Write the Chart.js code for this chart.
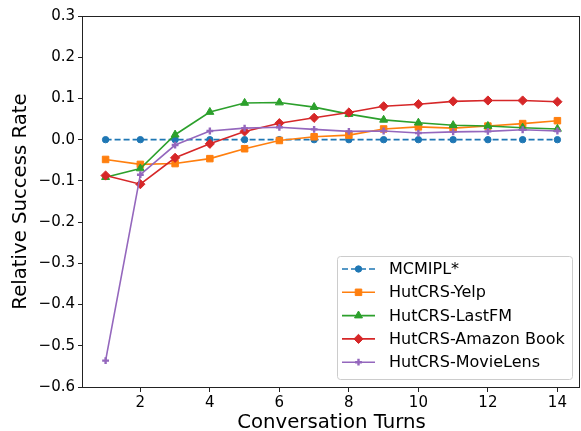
<!DOCTYPE html>
<html>
<head>
<meta charset="utf-8">
<script src="https://cdn.jsdelivr.net/npm/chart.js@4/dist/chart.umd.min.js"></script>
<style>
  html, body { margin: 0; padding: 0; background: #fff; }
  #wrap { width: 581px; height: 431px; }
</style>
</head>
<body>
<div id="wrap"><canvas id="c" width="581" height="431"></canvas></div>
<script>
// 数据
const turns = [1, 2, 3, 4, 5, 6, 7, 8, 9, 10, 11, 12, 13, 14];
const xTickValues = [2, 4, 6, 8, 10, 12, 14];
const seriesNames = ['MCMIPL*', 'HutCRS-Yelp', 'HutCRS-LastFM', 'HutCRS-Amazon Book', 'HutCRS-MovieLens'];
const mcmipl = [0, 0, 0, 0, 0, 0, 0, 0, 0, 0, 0, 0, 0, 0];
const yelp = [-0.048, -0.060, -0.058, -0.046, -0.022, -0.002, 0.007, 0.011, 0.026, 0.031, 0.028, 0.033, 0.039, 0.046];
const lastfm = [-0.091, -0.070, 0.012, 0.067, 0.089, 0.090, 0.079, 0.062, 0.048, 0.041, 0.035, 0.033, 0.029, 0.026];
const amazonBook = [-0.087, -0.108, -0.044, -0.010, 0.020, 0.040, 0.053, 0.066, 0.081, 0.086, 0.093, 0.095, 0.095, 0.092];
const movieLens = [-0.536, -0.085, -0.013, 0.021, 0.028, 0.030, 0.025, 0.020, 0.021, 0.016, 0.019, 0.020, 0.024, 0.021];

const FONT = "'DejaVu Sans', sans-serif";

const styles = [
  { color: '#1f77b4', pointStyle: 'circle', radius: 3.2, dash: [6, 3], pointBorder: 1 },
  { color: '#ff7f0e', pointStyle: 'rect', radius: 4.6, dash: [], pointBorder: 1 },
  { color: '#2ca02c', pointStyle: 'triangle', radius: 4.6, dash: [], pointBorder: 1 },
  { color: '#d62728', pointStyle: 'rectRot', radius: 4.6, dash: [], pointBorder: 1 },
  { color: '#9467bd', pointStyle: 'cross', radius: 3.4, dash: [], pointBorder: 2.4 }
];
const allValues = [mcmipl, yelp, lastfm, amazonBook, movieLens];

const datasets = allValues.map((vals, i) => ({
  label: seriesNames[i],
  data: turns.map((t, k) => ({ x: t, y: vals[k] })),
  borderColor: styles[i].color,
  backgroundColor: styles[i].color,
  borderWidth: 1.6,
  borderDash: styles[i].dash,
  pointStyle: styles[i].pointStyle,
  pointRadius: styles[i].radius,
  pointBorderWidth: styles[i].pointBorder,
  pointBackgroundColor: styles[i].color,
  pointBorderColor: styles[i].color,
  tension: 0,
  order: -i
}));

// 图框 + 图例
const framePlugin = {
  id: 'frame',
  afterDraw(chart) {
    const { ctx, chartArea: a } = chart;
    ctx.save();
    ctx.strokeStyle = '#222';
    ctx.lineWidth = 1;
    ctx.strokeRect(Math.round(a.left) - 0.5, Math.round(a.top) + 0.5,
      Math.round(a.right - a.left), Math.round(a.bottom - a.top));

    // legend box
    const bx = 337, by = 256, bw = 235, bh = 123;
    ctx.beginPath();
    ctx.roundRect(bx + 0.5, by + 0.5, bw, bh, 3);
    ctx.fillStyle = 'rgba(255,255,255,0.8)';
    ctx.fill();
    ctx.strokeStyle = '#cccccc';
    ctx.stroke();

    ctx.font = '16px ' + FONT;
    ctx.textBaseline = 'middle';
    ctx.textAlign = 'left';
    seriesNames.forEach((name, i) => {
      const y = 269 + i * 23.3;
      const s = styles[i];
      ctx.beginPath();
      ctx.setLineDash(s.dash);
      ctx.strokeStyle = s.color;
      ctx.lineWidth = 1.6;
      ctx.moveTo(342, y);
      ctx.lineTo(375, y);
      ctx.stroke();
      ctx.setLineDash([]);
      ctx.fillStyle = s.color;
      ctx.lineWidth = s.pointBorder;
      Chart.helpers.drawPoint(ctx, { pointStyle: s.pointStyle, radius: s.radius, rotation: 0, borderWidth: s.pointBorder }, 358.5, y);
      ctx.fillStyle = '#000';
      ctx.fillText(name, 389, y + 1);
    });
    ctx.restore();
  }
};

new Chart(document.getElementById('c'), {
  type: 'line',
  data: { datasets },
  plugins: [framePlugin],
  options: {
    responsive: false,
    animation: false,
    devicePixelRatio: 1,
    layout: { autoPadding: false, padding: { top: 16, right: 1, left: 0, bottom: 0 } },
    plugins: { legend: { display: false }, tooltip: { enabled: false } },
    scales: {
      x: {
        type: 'linear',
        min: 0.35,
        max: 14.65,
        afterBuildTicks: (s) => { s.ticks = xTickValues.map(v => ({ value: v })); },
        afterFit: (s) => { s.height = 44; s.paddingLeft = 0; s.paddingRight = 0; },
        border: { display: false },
        grid: { drawOnChartArea: false, drawTicks: true, tickLength: 5, color: '#222', lineWidth: 1 },
        ticks: { color: '#000', font: { family: FONT, size: 15 }, padding: 2, maxRotation: 0 },
        title: {
          display: true, text: 'Conversation Turns', color: '#000',
          font: { family: FONT, size: 19.7 }, padding: { top: 0, bottom: -3.5 }
        }
      },
      y: {
        min: -0.6,
        max: 0.3,
        ticks: {
          stepSize: 0.1, color: '#000', font: { family: FONT, size: 15 }, padding: 3,
          callback: (v) => (v < -1e-9 ? '\u2212' : '') + Math.abs(v).toFixed(1)
        },
        afterFit: (s) => { s.width = 83; },
        border: { display: false },
        grid: { drawOnChartArea: false, drawTicks: true, tickLength: 5, color: '#222', lineWidth: 1 },
        title: {
          display: true, text: 'Relative Success Rate', color: '#000',
          font: { family: FONT, size: 19.7 }, padding: { top: 9, bottom: 0 }
        }
      }
    }
  }
});
</script>
</body>
</html>
